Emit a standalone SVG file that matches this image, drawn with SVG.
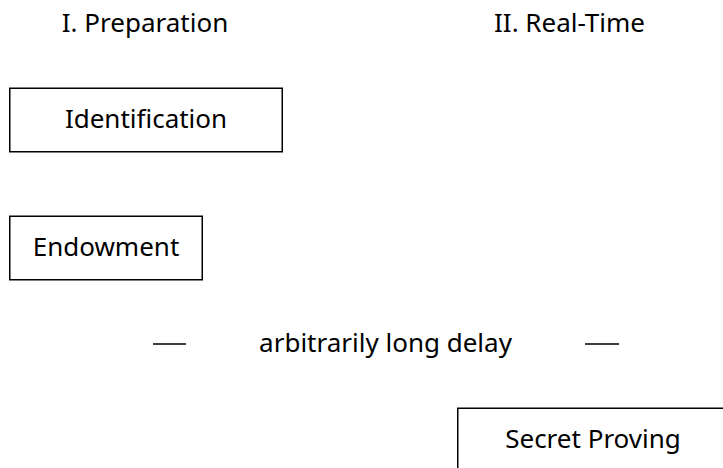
<svg xmlns="http://www.w3.org/2000/svg" width="723" height="468" viewBox="0 0 723 468">
<style>
text{font-family:"Noto Sans","Open Sans","DejaVu Sans",sans-serif;font-size:26px;fill:#000;text-anchor:middle}
.box{fill:#fff;stroke:#000;stroke-width:1.5}
.dash{stroke:#000;stroke-width:1.5}
</style>
<rect width="723" height="468" fill="#fff"/>
<g id="heading-preparation"><text x="145" y="32">I. Preparation</text></g>
<g id="heading-realtime"><text x="569.5" y="32">II. Real-Time</text></g>
<g id="identification">
<rect class="box" x="9.75" y="88.25" width="272.5" height="63.5"/>
<text x="146" y="128">Identification</text>
</g>
<g id="endowment">
<rect class="box" x="9.75" y="216.25" width="192.5" height="63.5"/>
<text x="106" y="256">Endowment</text>
</g>
<g id="delay">
<text x="385.5" y="352">arbitrarily long delay</text>
</g>
<g id="connectors">
<line class="dash" x1="153" y1="344" x2="186" y2="344"/>
<line class="dash" x1="585" y1="344" x2="619" y2="344"/>
</g>
<g id="secret-proving">
<rect class="box" x="457.75" y="408.25" width="272" height="63.5"/>
<text x="593" y="448">Secret Proving</text>
</g>
</svg>
